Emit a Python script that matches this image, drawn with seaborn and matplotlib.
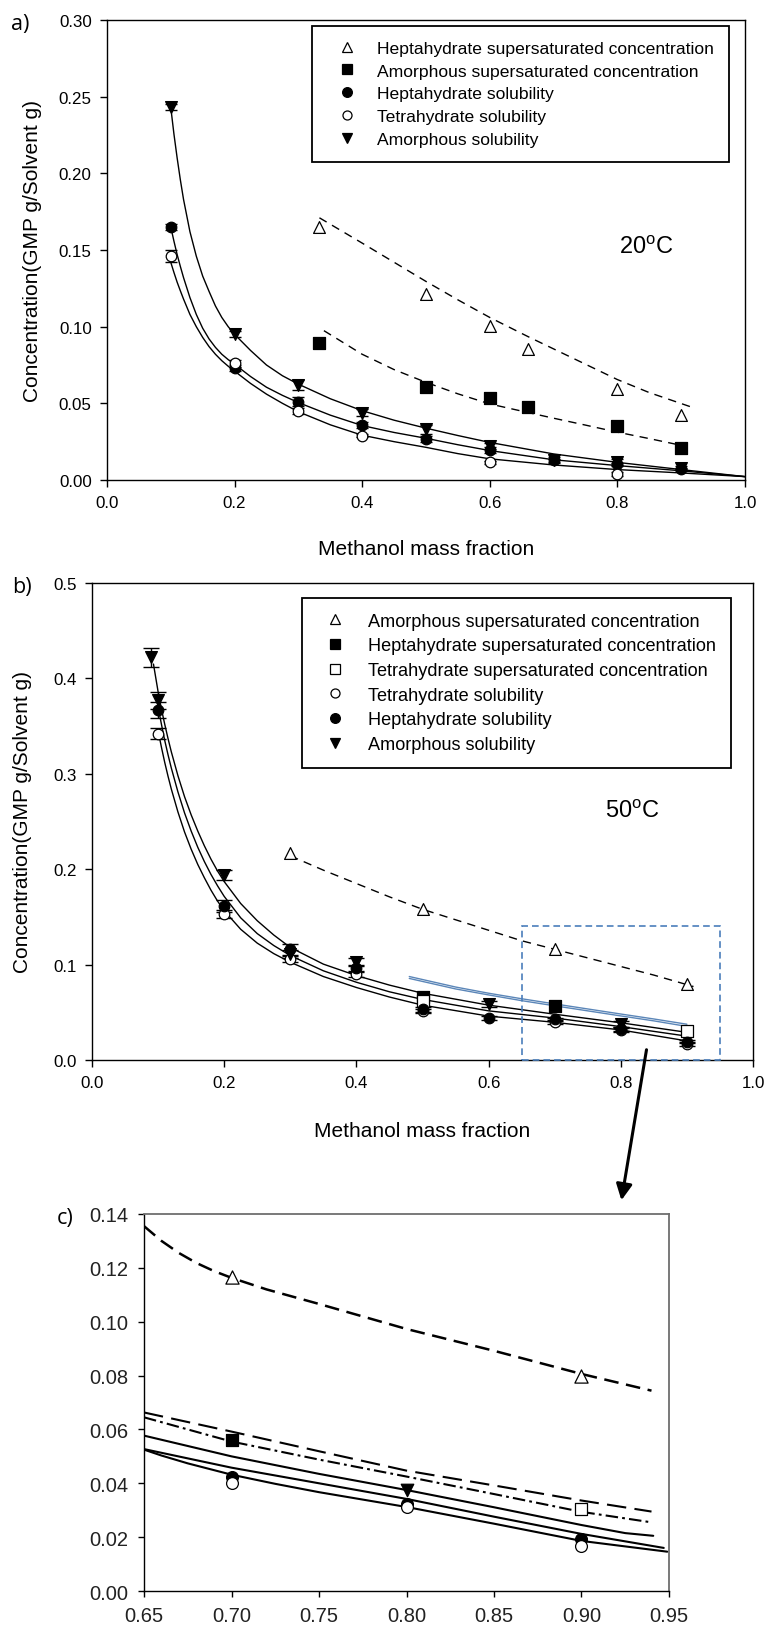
import matplotlib
matplotlib.use("Agg")
import matplotlib.pyplot as plt
import seaborn as sns
from matplotlib.lines import Line2D
from matplotlib.patches import Rectangle, FancyArrowPatch
from matplotlib.ticker import FormatStrFormatter, MultipleLocator

# ====================== DATA ======================
# ---- panel a (20 C) : measured points ----
a_hep_ss_x = [0.333, 0.5, 0.6, 0.66, 0.8, 0.9]
a_hep_ss_y = [0.165, 0.1213, 0.1007, 0.0854, 0.0593, 0.0424]
a_amor_ss_x = [0.333, 0.5, 0.6, 0.66, 0.8, 0.9]
a_amor_ss_y = [0.0891, 0.0604, 0.0533, 0.0478, 0.035, 0.0207]
a_hep_sol_x = [0.1, 0.2, 0.3, 0.4, 0.5, 0.6, 0.7, 0.8, 0.9]
a_hep_sol_y = [0.165, 0.073, 0.051, 0.036, 0.027, 0.0196, 0.013, 0.0104, 0.007]
a_hep_sol_err = [0.002, 0.002, 0.003, 0.002, 0.002, 0.002, 0.001, 0.001, 0.001]
a_tet_sol_x = [0.1, 0.2, 0.3, 0.4, 0.6, 0.8]
a_tet_sol_y = [0.146, 0.076, 0.045, 0.029, 0.0117, 0.0039]
a_tet_sol_err = [0.004, 0.002, 0.002, 0.001, 0.001, 0.001]
a_amor_sol_x = [0.1, 0.2, 0.3, 0.4, 0.5, 0.6, 0.7, 0.8, 0.9]
a_amor_sol_y = [0.243, 0.095, 0.062, 0.044, 0.033, 0.022, 0.013, 0.012, 0.008]
a_amor_sol_err = [0.002, 0.002, 0.003, 0.002, 0.003, 0.002, 0.002, 0.002, 0.001]

# ---- panel a : fitted curves ----
a_fit_x = [0.10, 0.105, 0.11, 0.115, 0.12, 0.13, 0.14, 0.15, 0.16, 0.17, 0.18, 0.19, 0.20,
           0.225, 0.25, 0.275, 0.30, 0.35, 0.40, 0.45, 0.50, 0.55, 0.60, 0.70, 0.80, 0.90, 1.00]
a_fit_amor_y = [0.243, 0.2255, 0.210, 0.1958, 0.183, 0.162, 0.146, 0.133, 0.123, 0.1135, 0.106, 0.100, 0.095,
                0.0845, 0.075, 0.068, 0.0625, 0.0530, 0.0452, 0.0390, 0.0338, 0.0290, 0.0245, 0.0170,
                0.0115, 0.0068, 0.0022]
a_fit_hep_y = [0.165, 0.1557, 0.147, 0.1393, 0.132, 0.119, 0.108, 0.099, 0.092, 0.0865, 0.082, 0.0785, 0.0755,
               0.0675, 0.0605, 0.0552, 0.0505, 0.0423, 0.0355, 0.0310, 0.0272, 0.0230, 0.0192, 0.0132,
               0.0094, 0.0060, 0.0022]
a_fit_tet_y = [0.142, 0.1353, 0.129, 0.1234, 0.118, 0.108, 0.100, 0.093, 0.087, 0.0820, 0.0778, 0.0742, 0.0710,
               0.0630, 0.0560, 0.0500, 0.0445, 0.0360, 0.0292, 0.0250, 0.0213, 0.0172, 0.0138, 0.0098,
               0.0068, 0.0046, 0.0022]
a_fit_hep_ss_x = [0.333, 0.40, 0.45, 0.50, 0.55, 0.60, 0.66, 0.70, 0.75, 0.80, 0.85, 0.92]
a_fit_hep_ss_y = [0.171, 0.1545, 0.1420, 0.1295, 0.1175, 0.1060, 0.0935, 0.0855, 0.0755, 0.0655, 0.0570, 0.0470]
a_fit_amor_ss_x = [0.34, 0.40, 0.45, 0.50, 0.55, 0.60, 0.66, 0.70, 0.75, 0.80, 0.85, 0.90]
a_fit_amor_ss_y = [0.0974, 0.0820, 0.0720, 0.0637, 0.0562, 0.0496, 0.0440, 0.0403, 0.0358, 0.0312, 0.0270, 0.0226]

# ---- panel b (50 C) : measured points ----
b_amor_ss_x = [0.3, 0.5, 0.7, 0.9]
b_amor_ss_y = [0.2175, 0.158, 0.1165, 0.0797]
b_hep_ss_x = [0.5, 0.7]
b_hep_ss_y = [0.066, 0.0561]
b_tet_ss_x = [0.5, 0.9]
b_tet_ss_y = [0.062, 0.0304]
b_tet_sol_x = [0.1, 0.2, 0.3, 0.4, 0.5, 0.7, 0.8, 0.9]
b_tet_sol_y = [0.342, 0.153, 0.106, 0.090, 0.051, 0.0401, 0.0311, 0.0168]
b_tet_sol_err = [0.006, 0.004, 0.003, 0.003, 0.002, 0.002, 0.002, 0.002]
b_hep_sol_x = [0.1, 0.2, 0.3, 0.4, 0.5, 0.6, 0.7, 0.8, 0.9]
b_hep_sol_y = [0.367, 0.1616, 0.116, 0.096, 0.053, 0.0436, 0.0425, 0.0323, 0.0193]
b_hep_sol_err = [0.008, 0.006, 0.006, 0.004, 0.003, 0.002, 0.002, 0.002, 0.002]
b_amor_sol_x = [0.09, 0.1, 0.2, 0.3, 0.4, 0.6, 0.8]
b_amor_sol_y = [0.422, 0.377, 0.1937, 0.111, 0.103, 0.0586, 0.0376]
b_amor_sol_err = [0.010, 0.009, 0.005, 0.004, 0.004, 0.003, 0.003]

# ---- panel b : fitted curves ----
b_fit_amor_x = [0.093, 0.10, 0.105, 0.11, 0.115, 0.12, 0.13, 0.14, 0.15, 0.16, 0.17, 0.18, 0.19, 0.20,
                0.225, 0.25, 0.275, 0.30, 0.35, 0.40, 0.45, 0.50, 0.60, 0.70, 0.80, 0.90]
b_fit_amor_y = [0.415, 0.386, 0.368, 0.352, 0.337, 0.323, 0.298, 0.276, 0.257, 0.240, 0.2245, 0.2105, 0.198,
                0.187, 0.164, 0.146, 0.131, 0.118, 0.1005, 0.0885, 0.0785, 0.0700, 0.0575, 0.0480,
                0.0390, 0.0290]
b_fit_x = [0.10, 0.105, 0.11, 0.115, 0.12, 0.13, 0.14, 0.15, 0.16, 0.17, 0.18, 0.19, 0.20,
           0.225, 0.25, 0.275, 0.30, 0.35, 0.40, 0.45, 0.50, 0.60, 0.70, 0.80, 0.90]
b_fit_hep_y = [0.370, 0.352, 0.335, 0.320, 0.306, 0.281, 0.259, 0.240, 0.223, 0.208, 0.1945, 0.1825, 0.1715,
               0.149, 0.1325, 0.120, 0.1095, 0.0935, 0.0815, 0.0715, 0.0635, 0.0515, 0.0440, 0.0350, 0.0250]
b_fit_tet_y = [0.345, 0.328, 0.312, 0.2975, 0.284, 0.260, 0.239, 0.221, 0.205, 0.191, 0.178, 0.1665, 0.1565,
               0.137, 0.1225, 0.1115, 0.1025, 0.0875, 0.0760, 0.0660, 0.0575, 0.0460, 0.0395, 0.0315, 0.0200]
b_fit_amor_ss_x = [0.30, 0.35, 0.40, 0.45, 0.50, 0.55, 0.60, 0.65, 0.70, 0.75, 0.80, 0.85, 0.91]
b_fit_amor_ss_y = [0.214, 0.199, 0.185, 0.171, 0.158, 0.147, 0.136, 0.125, 0.116, 0.107, 0.098, 0.089, 0.077]
b_fit_blue_x = [0.48, 0.55, 0.60, 0.65, 0.70, 0.75, 0.80, 0.85, 0.90]
b_fit_blue_upper_y = [0.0875, 0.0765, 0.0700, 0.0642, 0.0588, 0.0535, 0.0482, 0.0430, 0.0375]
b_fit_blue_lower_y = [0.0855, 0.0745, 0.0682, 0.0622, 0.0568, 0.0515, 0.0462, 0.0410, 0.0352]

# ---- panel c (zoom of b) : fitted curves ----
c_fit_amor_ss_x = [0.65, 0.66, 0.67, 0.68, 0.69, 0.70, 0.72, 0.75, 0.80, 0.85, 0.90, 0.94]
c_fit_amor_ss_y = [0.1355, 0.1300, 0.1255, 0.1218, 0.1188, 0.1163, 0.1120, 0.1066, 0.0973, 0.0892, 0.0806, 0.0744]
c_fit_ss_x = [0.65, 0.70, 0.75, 0.80, 0.85, 0.90, 0.94]
c_fit_hep_ss_y = [0.0663, 0.0592, 0.0519, 0.0447, 0.0392, 0.0336, 0.0295]
c_fit_tet_ss_y = [0.0645, 0.0555, 0.0488, 0.0425, 0.0360, 0.0294, 0.0255]
c_fit_amor_x = [0.65, 0.70, 0.75, 0.80, 0.85, 0.90, 0.925, 0.941]
c_fit_amor_y = [0.0577, 0.0500, 0.0435, 0.0375, 0.0311, 0.0245, 0.0215, 0.0205]
c_fit_hep_x = [0.65, 0.70, 0.75, 0.80, 0.85, 0.90, 0.947]
c_fit_hep_y = [0.0527, 0.0458, 0.0400, 0.0342, 0.0276, 0.0212, 0.0160]
c_fit_tet_x = [0.65, 0.66, 0.675, 0.70, 0.725, 0.75, 0.80, 0.85, 0.90, 0.949]
c_fit_tet_y = [0.0525, 0.0503, 0.0474, 0.0432, 0.0398, 0.0367, 0.0312, 0.0250, 0.0186, 0.0146]

# ---- labels ----
a_legend_labels = ["Heptahydrate supersaturated concentration",
                   "Amorphous supersaturated concentration",
                   "Heptahydrate solubility",
                   "Tetrahydrate solubility",
                   "Amorphous solubility"]
b_legend_labels = ["Amorphous supersaturated concentration",
                   "Heptahydrate supersaturated concentration",
                   "Tetrahydrate supersaturated concentration",
                   "Tetrahydrate solubility",
                   "Heptahydrate solubility",
                   "Amorphous solubility"]
xlabel_text = "Methanol mass fraction"
ylabel_text = "Concentration(GMP g/Solvent g)"
a_temp_text = "20$^\\mathregular{o}$C"
b_temp_text = "50$^\\mathregular{o}$C"
c_xlim = (0.65, 0.95)
c_ylim = (0.0, 0.14)

# ====================== STYLE ======================
sns.set_theme(style="ticks")
plt.rcParams["font.family"] = ["Liberation Sans", "DejaVu Sans"]
plt.rcParams.update({
    "axes.linewidth": 1.0,
    "axes.edgecolor": "black",
    "axes.labelcolor": "black",
    "text.color": "black",
    "xtick.color": "black",
    "ytick.color": "black",
    "xtick.major.size": 5,
    "ytick.major.size": 5,
    "xtick.major.width": 1.0,
    "ytick.major.width": 1.0,
    "xtick.labelsize": 12.2,
    "ytick.labelsize": 12.2,
    "axes.labelsize": 15,
    "lines.scale_dashes": False,
})

BLUE = "#4a7ebb"

fig = plt.figure(figsize=(7.69, 16.31), dpi=100)
ax_a = fig.add_axes([0.1391, 0.70509, 0.8297, 0.28203])
ax_b = fig.add_axes([0.11964, 0.34948, 0.85955, 0.29246])
ax_c = fig.add_axes([0.18726, 0.02391, 0.6827, 0.23115])


def curve(ax, x, y, ls="-", lw=1.0, color="black", z=2):
    sns.lineplot(x=x, y=y, ax=ax, sort=False, estimator=None, color=color,
                 linewidth=lw, linestyle=ls, zorder=z, legend=False)


def points(ax, x, y, marker, filled, ms):
    sns.scatterplot(x=x, y=y, ax=ax, marker=marker, s=ms ** 2,
                    color="black" if filled else "white", edgecolor="black",
                    linewidth=0.9, zorder=5, legend=False)


def errs(ax, x, y, e, cap):
    ax.errorbar(x, y, yerr=e, fmt="none", ecolor="black", elinewidth=1.0,
                capsize=cap, capthick=1.0, zorder=3)


def handle(marker, filled, ms):
    return Line2D([], [], linestyle="", marker=marker, markersize=ms,
                  markerfacecolor="black" if filled else "white",
                  markeredgecolor="black", markeredgewidth=0.9)


MS = {"^": 8.5, "v": 8.5, "s": 8.0, "o": 7.6}
DASH_AB = (0, (6, 4.5))

# ====================== PANEL A ======================
ax = ax_a
curve(ax, a_fit_x, a_fit_amor_y)
curve(ax, a_fit_x, a_fit_hep_y)
curve(ax, a_fit_x, a_fit_tet_y)
curve(ax, a_fit_hep_ss_x, a_fit_hep_ss_y, ls=DASH_AB)
curve(ax, a_fit_amor_ss_x, a_fit_amor_ss_y, ls=DASH_AB)
errs(ax, a_amor_sol_x, a_amor_sol_y, a_amor_sol_err, 4)
errs(ax, a_hep_sol_x, a_hep_sol_y, a_hep_sol_err, 4)
errs(ax, a_tet_sol_x, a_tet_sol_y, a_tet_sol_err, 4)
points(ax, a_hep_ss_x, a_hep_ss_y, "^", False, MS["^"])
points(ax, a_amor_ss_x, a_amor_ss_y, "s", True, MS["s"])
points(ax, a_hep_sol_x, a_hep_sol_y, "o", True, MS["o"])
points(ax, a_tet_sol_x, a_tet_sol_y, "o", False, MS["o"])
points(ax, a_amor_sol_x, a_amor_sol_y, "v", True, MS["v"])
ax.set_xlim(0, 1.0)
ax.set_ylim(0, 0.30)
ax.xaxis.set_major_locator(MultipleLocator(0.2))
ax.yaxis.set_major_locator(MultipleLocator(0.05))
ax.xaxis.set_major_formatter(FormatStrFormatter("%.1f"))
ax.yaxis.set_major_formatter(FormatStrFormatter("%.2f"))
ax.text(0.845, 0.507, a_temp_text, transform=ax.transAxes, ha="center", va="center", fontsize=17)
ha = [handle("^", False, 7.5), handle("s", True, 7), handle("o", True, 7),
      handle("o", False, 6.5), handle("v", True, 7.5)]
leg = ax.legend(ha, a_legend_labels, loc="upper left", bbox_to_anchor=(0.3208, 0.9876),
                borderaxespad=0, frameon=True, fancybox=False, edgecolor="black",
                framealpha=1, fontsize=12.6, handlelength=2.3, handletextpad=0.6,
                labelspacing=0.43, borderpad=0.85)
leg.get_frame().set_linewidth(1.3)

# ====================== PANEL B ======================
ax = ax_b
curve(ax, b_fit_amor_x, b_fit_amor_y)
curve(ax, b_fit_x, b_fit_hep_y)
curve(ax, b_fit_x, b_fit_tet_y)
curve(ax, b_fit_amor_ss_x, b_fit_amor_ss_y, ls=DASH_AB)
curve(ax, b_fit_blue_x, b_fit_blue_upper_y, lw=1.0, color="#5b86b8", z=3)
curve(ax, b_fit_blue_x, b_fit_blue_lower_y, lw=1.0, color="#5b86b8", z=3)
errs(ax, b_amor_sol_x, b_amor_sol_y, b_amor_sol_err, 6)
errs(ax, b_hep_sol_x, b_hep_sol_y, b_hep_sol_err, 6)
errs(ax, b_tet_sol_x, b_tet_sol_y, b_tet_sol_err, 6)
points(ax, b_amor_ss_x, b_amor_ss_y, "^", False, MS["^"])
points(ax, b_hep_ss_x, b_hep_ss_y, "s", True, MS["s"])
points(ax, b_tet_ss_x, b_tet_ss_y, "s", False, MS["s"])
points(ax, b_tet_sol_x, b_tet_sol_y, "o", False, MS["o"])
points(ax, b_hep_sol_x, b_hep_sol_y, "o", True, MS["o"])
points(ax, b_amor_sol_x, b_amor_sol_y, "v", True, MS["v"])
ax.add_patch(Rectangle((c_xlim[0], c_ylim[0]), c_xlim[1] - c_xlim[0], c_ylim[1] - c_ylim[0],
                       fill=False, edgecolor=BLUE, lw=1.2, linestyle=(0, (4.8, 2.9)),
                       zorder=6, clip_on=False))
ax.set_xlim(0, 1.0)
ax.set_ylim(0, 0.5)
ax.xaxis.set_major_locator(MultipleLocator(0.2))
ax.yaxis.set_major_locator(MultipleLocator(0.1))
ax.xaxis.set_major_formatter(FormatStrFormatter("%.1f"))
ax.yaxis.set_major_formatter(FormatStrFormatter("%.1f"))
ax.text(0.818, 0.522, b_temp_text, transform=ax.transAxes, ha="center", va="center", fontsize=17)
hb = [handle("^", False, 7.5), handle("s", True, 7), handle("s", False, 7),
      handle("o", False, 6.5), handle("o", True, 7), handle("v", True, 7.5)]
leg = ax.legend(hb, b_legend_labels, loc="upper left", bbox_to_anchor=(0.3172, 0.968),
                borderaxespad=0, frameon=True, fancybox=False, edgecolor="black",
                framealpha=1, fontsize=13.1, handlelength=2.1, handletextpad=0.75,
                labelspacing=0.42, borderpad=0.8)
leg.get_frame().set_linewidth(1.3)

# ====================== PANEL C ======================
ax = ax_c
curve(ax, c_fit_amor_ss_x, c_fit_amor_ss_y, ls=(0, (10.5, 5.5)), lw=1.8)
curve(ax, c_fit_ss_x, c_fit_hep_ss_y, ls=(0, (14, 6)), lw=1.5)
curve(ax, c_fit_ss_x, c_fit_tet_ss_y, ls=(0, (9, 3, 2, 3)), lw=1.5)
curve(ax, c_fit_amor_x, c_fit_amor_y, lw=1.5)
curve(ax, c_fit_hep_x, c_fit_hep_y, lw=1.5)
curve(ax, c_fit_tet_x, c_fit_tet_y, lw=1.5)
points(ax, b_amor_ss_x, b_amor_ss_y, "^", False, 9.5)
points(ax, b_hep_ss_x, b_hep_ss_y, "s", True, 9)
points(ax, b_tet_ss_x, b_tet_ss_y, "s", False, 9)
points(ax, b_hep_sol_x, b_hep_sol_y, "o", True, 8.5)
points(ax, b_tet_sol_x, b_tet_sol_y, "o", False, 8.5)
points(ax, b_amor_sol_x, b_amor_sol_y, "v", True, 9)
ax.set_xlim(*c_xlim)
ax.set_ylim(*c_ylim)
ax.xaxis.set_major_locator(MultipleLocator(0.05))
ax.yaxis.set_major_locator(MultipleLocator(0.02))
ax.xaxis.set_major_formatter(FormatStrFormatter("%.2f"))
ax.yaxis.set_major_formatter(FormatStrFormatter("%.2f"))
for s in ("top", "right"):
    ax.spines[s].set_color("#6e6e6e")
    ax.spines[s].set_linewidth(1.3)
ax.tick_params(axis="both", labelsize=14.5, length=4, pad=7, labelcolor="#222222")

# ====================== COMMON ======================
for ax in (ax_a, ax_b):
    ax.tick_params(axis="both", length=5, pad=6)
    ax.set_xlabel(xlabel_text, fontsize=15)
    ax.set_ylabel(ylabel_text, fontsize=15)
ax_a.yaxis.set_label_coords(-0.102, 0.5)
ax_a.xaxis.set_label_coords(0.5, -0.128)
ax_b.yaxis.set_label_coords(-0.091, 0.5)
ax_b.xaxis.set_label_coords(0.5, -0.128)
for ax in (ax_a, ax_b, ax_c):
    ax.grid(False)
    for s in ax.spines.values():
        s.set_visible(True)

fig.text(0.026, 0.9847, "a)", fontsize=15.5, family=["Open Sans", "DejaVu Sans"], ha="center", va="center")
fig.text(0.0286, 0.6395, "b)", fontsize=15.5, family=["Open Sans", "DejaVu Sans"], ha="center", va="center")
fig.text(0.0845, 0.2532, "c)", fontsize=15.5, family=["Open Sans", "DejaVu Sans"], ha="center", va="center")

arrow = FancyArrowPatch((0.8413, 0.35745), (0.8075, 0.2618), transform=fig.transFigure,
                        arrowstyle="-|>", mutation_scale=24, lw=2.2, color="black")
fig.add_artist(arrow)

fig.savefig("out.png", dpi=100)
